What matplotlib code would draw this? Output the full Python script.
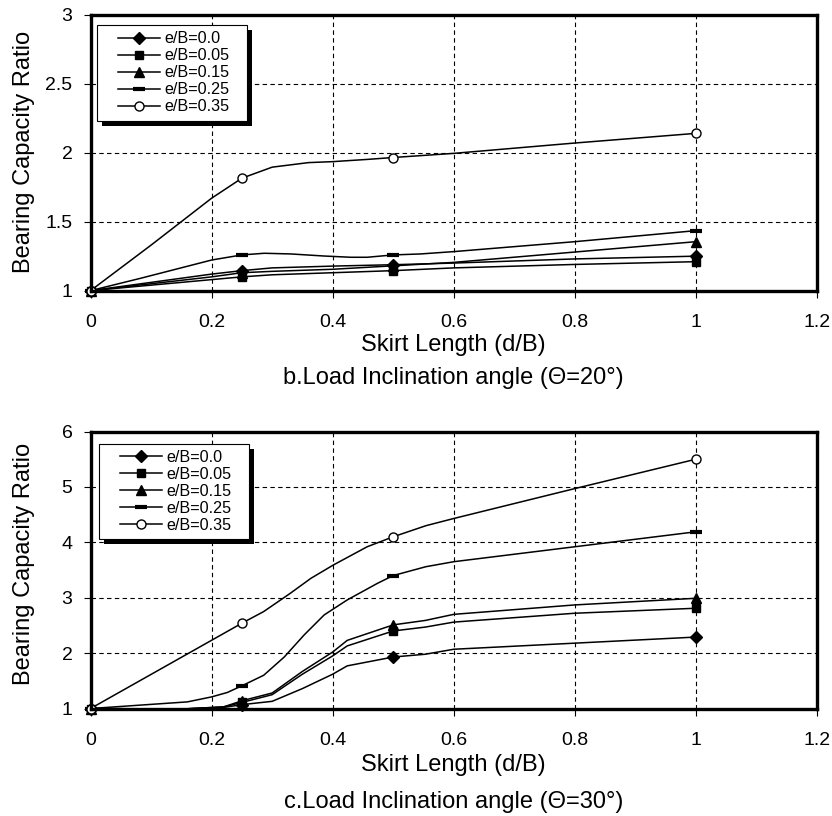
import matplotlib.pyplot as plt
from matplotlib.patches import Rectangle

plt.rcParams['font.family'] = ['Liberation Sans', 'DejaVu Sans']

# series names and marker styles (legend order)
labels = ['e/B=0.0', 'e/B=0.05', 'e/B=0.15', 'e/B=0.25', 'e/B=0.35']
markers = ['D', 's', '^', '_', 'o']

# tested skirt lengths (where the markers sit)
skirt_points = [0, 0.25, 0.5, 1.0]

xticks = [0, 0.2, 0.4, 0.6, 0.8, 1.0, 1.2]
xtick_labels = ['0', '0.2', '0.4', '0.6', '0.8', '1', '1.2']

# ---- b. load inclination 20 deg : smoothed curves
t20_x_e000 = [0, 0.1, 0.2, 0.25, 0.3, 0.4, 0.5, 0.6, 0.8, 1.0]
t20_y_e000 = [1, 1.06, 1.12, 1.145, 1.165, 1.178, 1.188, 1.2, 1.23, 1.25]
t20_x_e005 = [0, 0.1, 0.2, 0.25, 0.3, 0.4, 0.5, 0.6, 0.8, 1.0]
t20_y_e005 = [1, 1.04, 1.08, 1.10, 1.115, 1.13, 1.145, 1.165, 1.19, 1.21]
t20_x_e015 = [0, 0.1, 0.2, 0.25, 0.3, 0.4, 0.5, 0.6, 0.8, 1.0]
t20_y_e015 = [1, 1.05, 1.10, 1.13, 1.14, 1.155, 1.18, 1.205, 1.28, 1.355]
t20_x_e025 = [0, 0.083, 0.2, 0.25, 0.287, 0.331, 0.386, 0.43, 0.457, 0.5, 0.545, 0.6, 0.8, 1.0]
t20_y_e025 = [1, 1.09, 1.222, 1.259, 1.271, 1.266, 1.251, 1.242, 1.242, 1.259, 1.266, 1.283, 1.355, 1.435]
t20_x_e035 = [0, 0.1, 0.2, 0.25, 0.3, 0.36, 0.4, 0.46, 0.5, 0.6, 0.8, 1.0]
t20_y_e035 = [1, 1.33, 1.67, 1.815, 1.895, 1.928, 1.935, 1.952, 1.965, 1.995, 2.07, 2.14]

# ---- c. load inclination 30 deg
t30_x_e000 = [0, 0.15, 0.22, 0.25, 0.3, 0.35, 0.4, 0.424, 0.5, 0.553, 0.6, 0.8, 1.0]
t30_y_e000 = [1, 0.99, 1.02, 1.07, 1.13, 1.36, 1.62, 1.77, 1.93, 1.98, 2.07, 2.18, 2.29]
t30_x_e005 = [0, 0.15, 0.22, 0.25, 0.3, 0.35, 0.4, 0.424, 0.5, 0.553, 0.6, 0.8, 1.0]
t30_y_e005 = [1, 0.99, 1.03, 1.11, 1.25, 1.62, 1.95, 2.13, 2.40, 2.47, 2.56, 2.72, 2.81]
t30_x_e015 = [0, 0.15, 0.22, 0.25, 0.3, 0.35, 0.4, 0.424, 0.5, 0.553, 0.6, 0.8, 1.0]
t30_y_e015 = [1, 0.99, 1.03, 1.14, 1.28, 1.67, 2.02, 2.23, 2.51, 2.59, 2.70, 2.87, 2.99]
t30_x_e025 = [0, 0.16, 0.2, 0.226, 0.25, 0.286, 0.32, 0.353, 0.386, 0.424, 0.474, 0.5, 0.554, 0.6, 0.8, 1.0]
t30_y_e025 = [1, 1.12, 1.21, 1.29, 1.41, 1.60, 1.93, 2.33, 2.69, 2.96, 3.26, 3.40, 3.56, 3.65, 3.92, 4.19]
t30_x_e035 = [0, 0.25, 0.286, 0.33, 0.364, 0.401, 0.457, 0.5, 0.554, 0.6, 0.8, 1.0]
t30_y_e035 = [1, 2.54, 2.75, 3.08, 3.35, 3.59, 3.92, 4.10, 4.30, 4.43, 4.97, 5.50]

t20_yticks = [1, 1.5, 2, 2.5, 3]
t20_ytick_labels = ['1', '1.5', '2', '2.5', '3']
t30_yticks = [1, 2, 3, 4, 5, 6]
t30_ytick_labels = ['1', '2', '3', '4', '5', '6']


def draw_panel(ax, xs, ys, yticks, ytick_labels, title, frame, anchor, label_pos):
    for cx, cy, lab, mk in zip(xs, ys, labels, markers):
        idx = [i for i, x in enumerate(cx) if x in skirt_points]
        style = dict(color='black', lw=1.1, marker=mk, markevery=idx,
                     mec='black', mfc='black', ms=7, clip_on=False, zorder=4)
        if mk == 'o':
            style.update(mfc='white', ms=6.5, mew=1.0)
        if mk == '_':
            style.update(ms=8, mew=3)
        if mk == 'D':
            style.update(ms=6)
        if mk == 's':
            style.update(ms=6)
        ax.plot(cx, cy, label=lab, **style)

    ax.set_xlim(0, 1.2)
    ax.set_ylim(yticks[0], yticks[-1])
    ax.set_xticks(xticks)
    ax.set_xticklabels(xtick_labels)
    ax.set_yticks(yticks)
    ax.set_yticklabels(ytick_labels)
    ax.tick_params(axis='both', labelsize=14, length=5, width=0.8, direction='out')
    ax.tick_params(axis='x', pad=12)
    ax.tick_params(axis='y', pad=8)
    ax.grid(True, color='black', lw=0.8, ls=(0, (4, 3)))
    ax.set_axisbelow(True)
    for sp in ax.spines.values():
        sp.set_linewidth(2.4)
        sp.set_zorder(6)

    ax.set_xlabel('Skirt Length (d/B)', fontsize=17)
    ax.xaxis.set_label_coords(0.5, label_pos[0])
    ax.xaxis.label.set_va('baseline')
    ax.set_ylabel('Bearing Capacity Ratio', fontsize=17)
    ax.yaxis.set_label_coords(-0.0915, label_pos[2])
    ax.yaxis.label.set_va('center')
    ax.text(0.5, label_pos[1], title, transform=ax.transAxes, fontsize=17,
            ha='center', va='baseline')

    # legend frame with a hard black shadow, like the spreadsheet chart
    x0, y0, x1, y1 = frame
    ax.add_patch(Rectangle((x0 + 0.0069, y0 - 0.018), x1 - x0, y1 - y0,
                           transform=ax.transAxes, fc='black', ec='none',
                           zorder=7, clip_on=False))
    ax.add_patch(Rectangle((x0, y0), x1 - x0, y1 - y0, transform=ax.transAxes,
                           fc='white', ec='black', lw=0.8, zorder=8, clip_on=False))
    leg = ax.legend(loc='center left', bbox_to_anchor=anchor, frameon=False,
                    fontsize=11.6, handlelength=2.6, handletextpad=0.3,
                    labelspacing=0.12, borderpad=0, borderaxespad=0)
    leg.set_zorder(9)


fig = plt.figure(figsize=(8.32, 8.16), dpi=100)
ax1 = fig.add_axes([0.1088, 0.6438, 0.8732, 0.3382])
ax2 = fig.add_axes([0.1088, 0.1317, 0.8732, 0.3395])

draw_panel(ax1,
           [t20_x_e000, t20_x_e005, t20_x_e015, t20_x_e025, t20_x_e035],
           [t20_y_e000, t20_y_e005, t20_y_e015, t20_y_e025, t20_y_e035],
           t20_yticks, t20_ytick_labels,
           'b.Load Inclination angle (\u0398=20\u00b0)',
           (0.0089, 0.6149, 0.2154, 0.9627), (0.0379, 0.7895),
           (-0.2174, -0.338, 0.5025))
draw_panel(ax2,
           [t30_x_e000, t30_x_e005, t30_x_e015, t30_x_e025, t30_x_e035],
           [t30_y_e000, t30_y_e005, t30_y_e015, t30_y_e025, t30_y_e035],
           t30_yticks, t30_ytick_labels,
           'c.Load Inclination angle (\u0398=30\u00b0)',
           (0.0117, 0.6108, 0.2182, 0.9538), (0.0406, 0.7845),
           (-0.2267, -0.359, 0.522))

fig.savefig('out.png', dpi=100)
